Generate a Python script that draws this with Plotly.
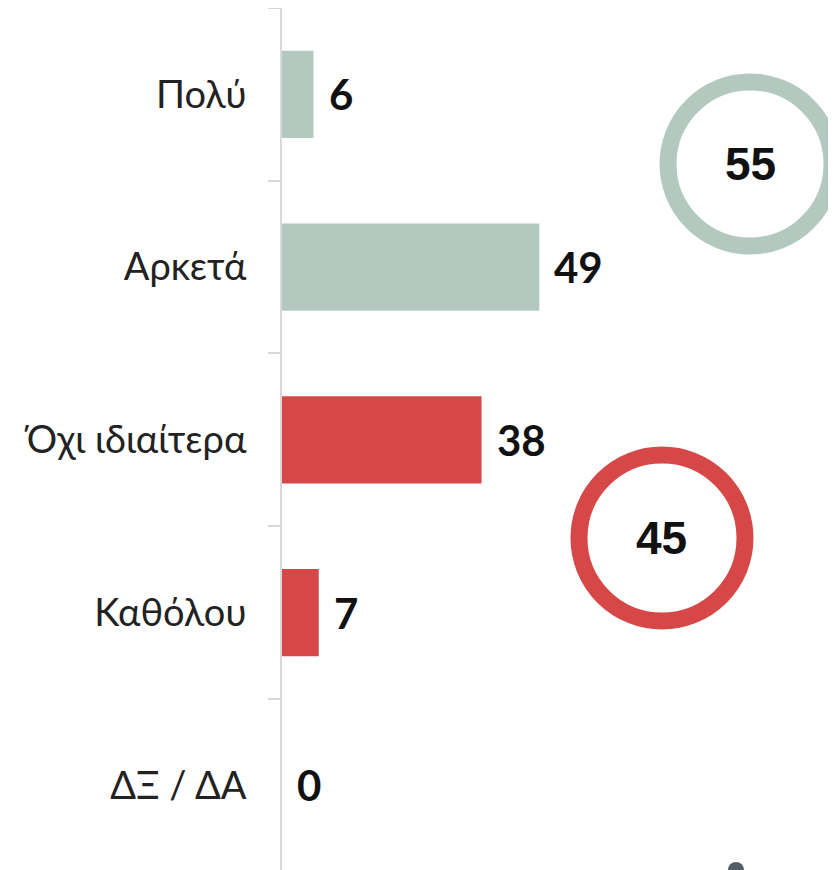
import plotly.graph_objects as go

categories = ["Πολύ", "Αρκετά", "Όχι ιδιαίτερα", "Καθόλου", "ΔΞ / ΔΑ"]
values = [6, 49, 38, 7, 0]
bar_colors = ["#b3c9c0", "#b3c9c0", "#d64848", "#d64848", "#d64848"]
totals = [55, 45]
total_colors = ["#b3c9c0", "#d64848"]

fig = go.Figure()
fig.add_trace(go.Bar(
    y=categories, x=values, orientation="h",
    marker=dict(color=bar_colors, line=dict(width=0)),
    hoverinfo="skip",
))

for c, v in zip(categories, values):
    fig.add_annotation(x=v, y=c, xref="x", yref="y", text=f"<b>{v}</b>",
                       showarrow=False, xanchor="left", yanchor="middle", xshift=13,
                       font=dict(family="Lato, Noto Sans, sans-serif", size=42, color="#111111"))

# ring positions (paper coords)
rings = [
    dict(x0=0.6968, x1=0.9928, y0=0.7239, y1=0.9142),
    dict(x0=0.5361, x1=0.8357, y0=0.2889, y1=0.4814),
]
for r, t, c in zip(rings, totals, total_colors):
    fig.add_shape(type="circle", xref="paper", yref="paper",
                  x0=r["x0"], x1=r["x1"], y0=r["y0"], y1=r["y1"],
                  line=dict(color=c, width=17), fillcolor="rgba(0,0,0,0)")
    fig.add_annotation(xref="paper", yref="paper",
                       x=(r["x0"] + r["x1"]) / 2, y=(r["y0"] + r["y1"]) / 2,
                       xanchor="center", yanchor="middle",
                       text=f"<b>{t}</b>", showarrow=False,
                       font=dict(family="Liberation Sans, Arial, sans-serif", size=46, color="#111111"))

# small logo dot at bottom
fig.add_shape(type="circle", xref="paper", yref="paper",
              x0=(728 - 282) / 554, x1=(744 - 282) / 554,
              y0=(870 - 878) / 862, y1=(870 - 862) / 862,
              line=dict(width=0), fillcolor="#555d66")

fig.update_layout(
    width=828, height=862,
    margin=dict(l=274, r=0, t=0, b=0),
    paper_bgcolor="white", plot_bgcolor="white",
    showlegend=False, bargap=0.495,
    xaxis=dict(range=[0, 105.5], visible=False, fixedrange=True),
    yaxis=dict(
        type="category", range=[4.49, -0.5],
        showline=True, linecolor="#d9d9d9", linewidth=2,
        ticks="outside", tickson="boundaries", ticklen=12, tickcolor="#d9d9d9", tickwidth=2,
        ticklabelstandoff=26,
        tickfont=dict(family="Lato, Noto Sans, sans-serif", size=38, color="#222222"),
        showgrid=False, zeroline=False,
    ),
)

fig.write_html("out.html")
